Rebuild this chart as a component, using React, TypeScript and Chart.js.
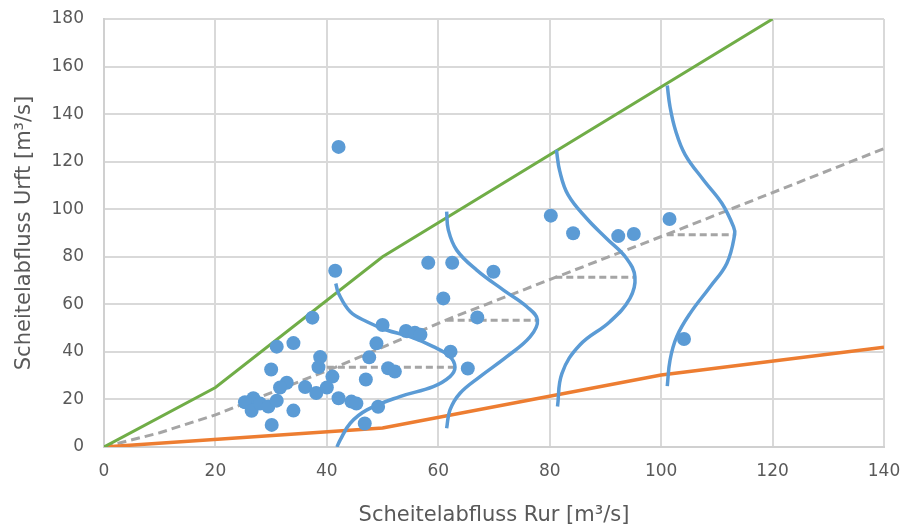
import { useEffect, useRef } from "react";
import { Chart, registerables } from "chart.js";
Chart.register(...registerables);

// Scatter observations: Scheitelabfluss Rur (x) vs Urft (y)
const rurValues = [42.1, 41.5, 37.4, 31.0, 34.0, 30.0, 38.8, 38.5, 41.0, 32.8, 31.6, 36.1, 38.1, 40.0, 26.8, 25.3, 26.5, 28.0, 29.5, 31.0, 34.0, 30.1, 42.1, 44.4, 45.3, 49.2, 46.8, 47.0, 51.0, 52.2, 47.6, 48.9, 50.0, 54.2, 55.8, 56.8, 58.2, 62.5, 69.9, 60.9, 67.0, 62.2, 65.3, 80.2, 84.2, 92.3, 95.1, 101.5, 104.1];
const urftValues = [126.2, 74.1, 54.4, 42.2, 43.7, 32.6, 37.8, 33.6, 29.6, 27.0, 25.0, 25.2, 22.7, 25.0, 20.5, 18.8, 15.2, 18.3, 17.0, 19.5, 15.3, 9.3, 20.5, 19.1, 18.3, 16.9, 9.9, 28.4, 33.1, 31.7, 37.7, 43.6, 51.3, 48.8, 48.1, 47.2, 77.5, 77.5, 73.7, 62.5, 54.5, 40.1, 33.0, 97.3, 89.9, 88.7, 89.6, 95.9, 45.4];

// Upper envelope (green)
const upperX = [0, 20, 50, 120];
const upperY = [0, 25, 80, 180];
// Lower envelope (orange)
const lowerX = [0, 50, 100, 140];
const lowerY = [0, 8, 30.3, 42];
// Mean relation (grey dashed)
const meanX = [0, 10, 20, 41.5, 61.5, 81, 101, 140];
const meanY = [0, 6, 13.5, 33.5, 53.5, 71.3, 89.4, 125.5];

// Distribution curves (blue)
const dist1X = [41.6, 42.1, 44.2, 47.2, 50.7, 54.9, 59.1, 62.1, 63.0, 62.1, 59.1, 53.1, 47.2, 44.2, 42.4, 41.8];
const dist1Y = [68.8, 64.6, 56.9, 52.7, 49.2, 46.4, 42.2, 38.0, 33.5, 29.6, 25.4, 21.2, 15.6, 10.0, 3.0, 0];
const dist2X = [61.5, 61.8, 63.3, 66.9, 71.7, 75.9, 77.8, 76.5, 72.3, 67.5, 63.9, 62.1, 61.5];
const dist2Y = [99.0, 91.3, 82.8, 74.4, 66.0, 59.0, 53.4, 46.4, 38.0, 29.6, 22.6, 15.6, 7.9];
const dist3X = [81.2, 81.8, 83.3, 86.6, 90.2, 93.8, 95.3, 94.4, 90.8, 85.4, 82.2, 81.4];
const dist3Y = [125.0, 116.0, 106.0, 96.2, 87.7, 79.3, 71.4, 62.5, 52.7, 42.9, 31.0, 17.0];
const dist4X = [101.1, 101.6, 102.6, 104.3, 107.6, 110.9, 113.0, 113.2, 111.8, 108.8, 105.2, 102.8, 101.6, 101.1];
const dist4Y = [152.0, 143.0, 133.0, 123.0, 112.3, 102.5, 92.6, 89.4, 77.3, 67.4, 56.2, 46.4, 36.6, 25.6];

// Horizontal mean markers (grey dotted)
const markerStartX = [40, 61.5, 81, 101];
const markerEndX = [63, 77.7, 95.3, 113.1];
const markerY = [33.5, 53.3, 71.4, 89.3];

const xTitle = "Scheitelabfluss Rur [m³/s]";
const yTitle = "Scheitelabfluss Urft [m³/s]";

const zip = (xs: number[], ys: number[]) => xs.map((x, i) => ({ x, y: ys[i] }));

const FONT = "'DejaVu Sans', sans-serif";
const TEXT = "#595959";
const BLUE = "#5B9BD5";

export default function App() {
  const ref = useRef<HTMLCanvasElement | null>(null);
  useEffect(() => {
    if (!ref.current) return;
    const lineDs = (data: any[], color: string, width: number, extra: any = {}) => ({
      type: "scatter" as const,
      data,
      showLine: true,
      borderColor: color,
      backgroundColor: color,
      borderWidth: width,
      pointRadius: 0,
      tension: 0,
      order: 2,
      ...extra,
    });
    const markers = markerY.map((y, i) =>
      lineDs([{ x: markerStartX[i], y }, { x: markerEndX[i], y }], "#A5A5A5", 3, { borderDash: [7, 4], order: 3 })
    );
    const chart = new Chart(ref.current, {
      type: "scatter",
      data: {
        datasets: [
          {
            type: "scatter",
            data: zip(rurValues, urftValues),
            backgroundColor: BLUE,
            borderColor: BLUE,
            pointRadius: 7,
            pointBorderWidth: 0,
            order: 0,
          } as any,
          lineDs(zip(upperX, upperY), "#70AD47", 3),
          lineDs(zip(lowerX, lowerY), "#ED7D31", 3.5),
          lineDs(zip(meanX, meanY), "#A5A5A5", 3, { borderDash: [9, 5] }),
          ...markers,
          lineDs(zip(dist1X, dist1Y), BLUE, 3.5, { tension: 0.4, order: 1 }),
          lineDs(zip(dist2X, dist2Y), BLUE, 3.5, { tension: 0.4, order: 1 }),
          lineDs(zip(dist3X, dist3Y), BLUE, 3.5, { tension: 0.4, order: 1 }),
          lineDs(zip(dist4X, dist4Y), BLUE, 3.5, { tension: 0.4, order: 1 }),
        ],
      },
      options: {
        responsive: false,
        animation: false,
        layout: { padding: { left: 0, right: 22, top: 19, bottom: 0 } },
        plugins: { legend: { display: false }, tooltip: { enabled: false } },
        scales: {
          x: {
            type: "linear",
            min: 0,
            max: 140,
            afterFit: (s: any) => { s.height = 83; s.paddingLeft = 0; s.paddingRight = 0; },
            ticks: { stepSize: 20, color: TEXT, padding: 14, font: { family: FONT, size: 17 } },
            grid: { color: "#D9D9D9", lineWidth: 2, drawTicks: false },
            border: { color: "#D0D0D0", width: 2 },
            title: { display: true, text: xTitle, color: TEXT, font: { family: FONT, size: 21 }, padding: { top: 0, bottom: 2 } },
          },
          y: {
            type: "linear",
            min: 0,
            max: 180,
            afterFit: (s: any) => { s.width = 104; s.paddingTop = 0; s.paddingBottom = 0; },
            ticks: { stepSize: 20, color: TEXT, padding: 20, font: { family: FONT, size: 17 } },
            grid: { color: "#D9D9D9", lineWidth: 2, drawTicks: false },
            border: { color: "#D0D0D0", width: 2 },
            title: { display: true, text: yTitle, color: TEXT, font: { family: FONT, size: 21 }, padding: { top: 12, bottom: 0 } },
          },
        },
      } as any,
    });
    return () => chart.destroy();
  }, []);
  return (
    <div style={{ position: "fixed", left: 0, top: 0, width: 906, height: 530, background: "#fff" }}>
      <canvas ref={ref} width={906} height={530} style={{ display: "block" }} />
    </div>
  );
}
